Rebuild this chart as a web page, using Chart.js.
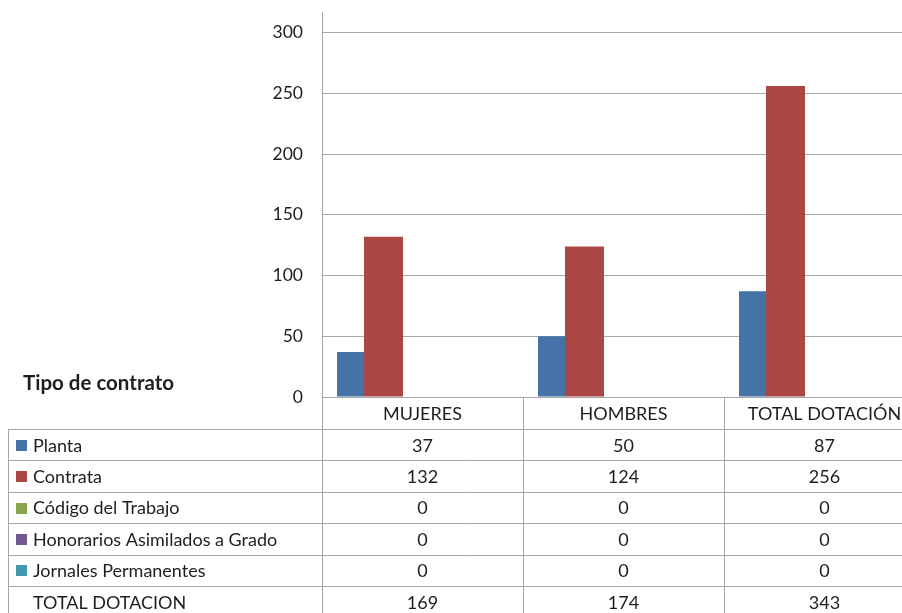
<!DOCTYPE html>
<html lang="es">
<head>
<meta charset="UTF-8">
<title>Tipo de contrato</title>
<style>
  html, body { margin: 0; padding: 0; background: #fff; overflow: hidden; }
  #wrap { width: 902px; height: 613px; overflow: hidden; }
</style>
</head>
<body>
<div id="wrap"><canvas id="myChart" width="925" height="613"></canvas></div>
<script src="https://cdn.jsdelivr.net/npm/chart.js@4.4.0/dist/chart.umd.min.js"></script>
<script>
// data
var categories = ["MUJERES", "HOMBRES", "TOTAL DOTACIÓN"];
var seriesNames = ["Planta", "Contrata", "Código del Trabajo", "Honorarios Asimilados a Grado", "Jornales Permanentes"];
var planta = [37, 50, 87];
var contrata = [132, 124, 256];
var codigoTrabajo = [0, 0, 0];
var honorarios = [0, 0, 0];
var jornales = [0, 0, 0];
var totalLabel = "TOTAL DOTACION";
var totalDotacion = [169, 174, 343];
var yMax = 317;
var yStep = 50;

var seriesColors = ["#4572A7", "#AA4643", "#89A54E", "#71588F", "#4198AF"];
var lineColor = "#a6a6a6";
var textColor = "#1e1e1e";
var fontFamily = "Lato, 'Liberation Sans', sans-serif";

var seriesValues = [planta, contrata, codigoTrabajo, honorarios, jornales];

// blue sits under the red one in the original, so the slots are tuned per series
var catPct = [0.8955, 0.9701, 0.9701, 0.9701, 0.9701];
var barPct = [0.75, 1, 1, 1, 1];

var datasets = [];
for (var i = 0; i < seriesNames.length; i++) {
    datasets.push({
        label: seriesNames[i],
        data: seriesValues[i],
        backgroundColor: seriesColors[i],
        borderWidth: 0,
        categoryPercentage: catPct[i],
        barPercentage: barPct[i]
    });
}

var dataTable = {
    id: "dataTable",
    afterDraw: function (chart) {
        var ctx = chart.ctx;
        var area = chart.chartArea;
        var x = chart.scales.x;
        var left = 8;
        var right = chart.width;
        var headTop = area.bottom;
        var rowTop = 429;
        var rowH = 31.4;
        var colW = (area.right - area.left) / categories.length;

        ctx.save();
        ctx.strokeStyle = lineColor;
        ctx.lineWidth = 1;
        ctx.beginPath();
        // vertical lines
        for (var c = 0; c <= categories.length; c++) {
            var vx = Math.round(area.left + c * colW) + 0.5;
            ctx.moveTo(vx, headTop);
            ctx.lineTo(vx, chart.height);
        }
        ctx.moveTo(left + 0.5, rowTop);
        ctx.lineTo(left + 0.5, chart.height);
        // horizontal lines
        for (var r = 0; r <= seriesNames.length; r++) {
            var hy = Math.round(rowTop + r * rowH) + 0.5;
            ctx.moveTo(left, hy);
            ctx.lineTo(right, hy);
        }
        ctx.stroke();

        ctx.fillStyle = textColor;
        ctx.textBaseline = "middle";

        // title
        ctx.font = "bold 20.5px " + fontFamily;
        ctx.textAlign = "left";
        ctx.fillText("Tipo de contrato", 23, 383);

        ctx.font = "18px " + fontFamily;
        // header
        ctx.textAlign = "center";
        for (var k = 0; k < categories.length; k++) {
            ctx.fillText(categories[k], x.getPixelForValue(k), (headTop + rowTop) / 2 + 1);
        }

        // series rows
        var rows = seriesValues.concat([totalDotacion]);
        for (var s = 0; s < rows.length; s++) {
            var cy = rowTop + s * rowH + rowH / 2 + 1;
            if (s < seriesColors.length) {
                ctx.fillStyle = seriesColors[s];
                ctx.fillRect(16, Math.round(cy - 6), 11, 11);
            }
            ctx.fillStyle = textColor;
            ctx.textAlign = "left";
            ctx.fillText(s < seriesNames.length ? seriesNames[s] : totalLabel, 33, cy);
            ctx.textAlign = "center";
            for (var j = 0; j < categories.length; j++) {
                ctx.fillText(String(rows[s][j]), x.getPixelForValue(j), cy);
            }
        }
        ctx.restore();
    }
};

var ctx = document.getElementById("myChart").getContext("2d");
var myChart = new Chart(ctx, {
    type: "bar",
    data: { labels: categories, datasets: datasets },
    options: {
        responsive: false,
        animation: false,
        devicePixelRatio: 1,
        layout: { padding: { top: 12, bottom: 216, left: 0, right: 0 } },
        plugins: { legend: { display: false }, tooltip: { enabled: false } },
        scales: {
            x: { display: false },
            y: {
                min: 0,
                max: yMax,
                ticks: {
                    stepSize: yStep,
                    includeBounds: false,
                    padding: 19,
                    color: textColor,
                    font: { family: fontFamily, size: 17.5 }
                },
                grid: { color: lineColor, drawTicks: false },
                border: { color: lineColor },
                afterFit: function (scale) {
                    scale.width = 322;
                    scale.paddingTop = 0;
                    scale.paddingBottom = 0;
                }
            }
        }
    },
    plugins: [dataTable]
});
</script>
</body>
</html>
